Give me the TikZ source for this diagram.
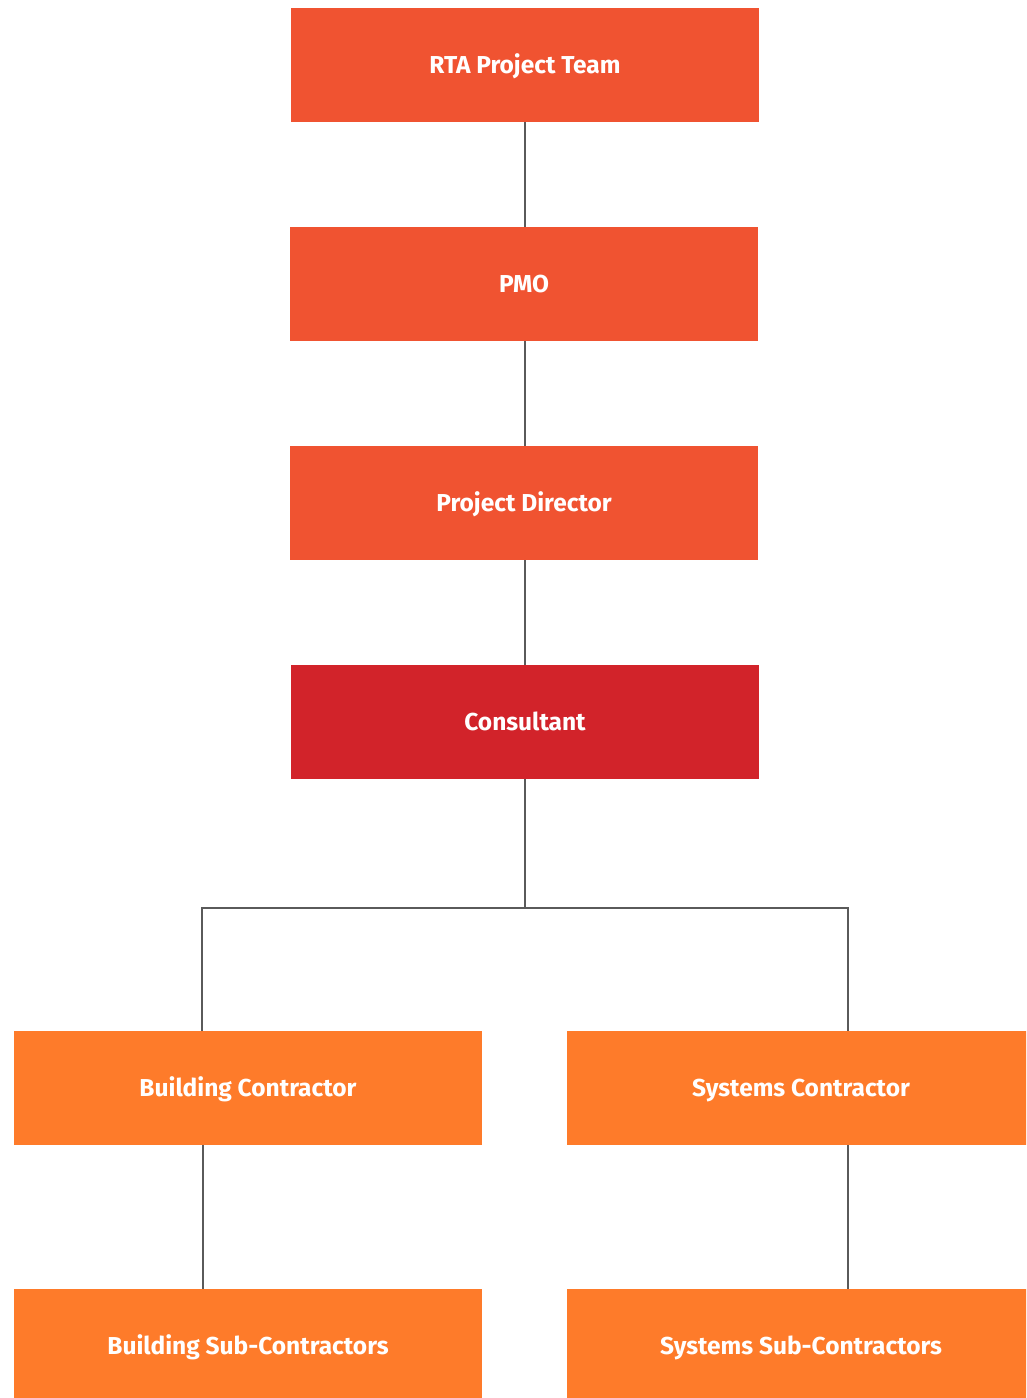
\documentclass[tikz,border=0pt]{standalone}
\usepackage{fontspec}
\setmainfont{Fira Sans}
\definecolor{topc}{HTML}{F05331}
\definecolor{consc}{HTML}{D2232A}
\definecolor{contc}{HTML}{FE7B2A}
\definecolor{linec}{HTML}{5A5A5A}
\begin{document}
\begin{tikzpicture}[x=1pt,y=-1pt,
  box/.style={minimum width=468pt,minimum height=114pt,inner sep=0pt,text=white,text height=17pt,text depth=0pt,font=\fontsize{24.5}{28}\selectfont\bfseries},
  conn/.style={draw=linec,line width=1.3pt}]
\useasboundingbox (0,0) rectangle (1026,1398);
\begin{scope}
\clip (0,0) rectangle (1026,1398);
\node[box,fill=topc] (rta) at (525,65) {RTA Project Team};
\node[box,fill=topc] (pmo) at (524,284) {PMO};
\node[box,fill=topc] (pd) at (524,503) {Project Director};
\node[box,fill=consc] (cons) at (525,722) {Consultant};
\node[box,fill=contc] (bc) at (248,1088) {Building Contractor};
\node[box,fill=contc] (sc) at (801,1088) {Systems Contractor};
\node[box,fill=contc] (bsc) at (248,1346) {Building Sub-Contractors};
\node[box,fill=contc] (ssc) at (801,1346) {Systems Sub-Contractors};
\coordinate (j) at (525,908);
\draw[conn] (rta.south -| 525,0) -- (pmo.north -| 525,0);
\draw[conn] (pmo.south -| 525,0) -- (pd.north -| 525,0);
\draw[conn] (pd.south -| 525,0) -- (cons.north -| 525,0);
\draw[conn] (cons.south -| 525,0) -- (j);
\draw[conn] (bc.north -| 202,0) |- (j) -| (sc.north -| 848,0);
\draw[conn] (bc.south -| 203,0) -- (bsc.north -| 203,0);
\draw[conn] (sc.south -| 848,0) -- (ssc.north -| 848,0);
\end{scope}
\end{tikzpicture}
\end{document}
